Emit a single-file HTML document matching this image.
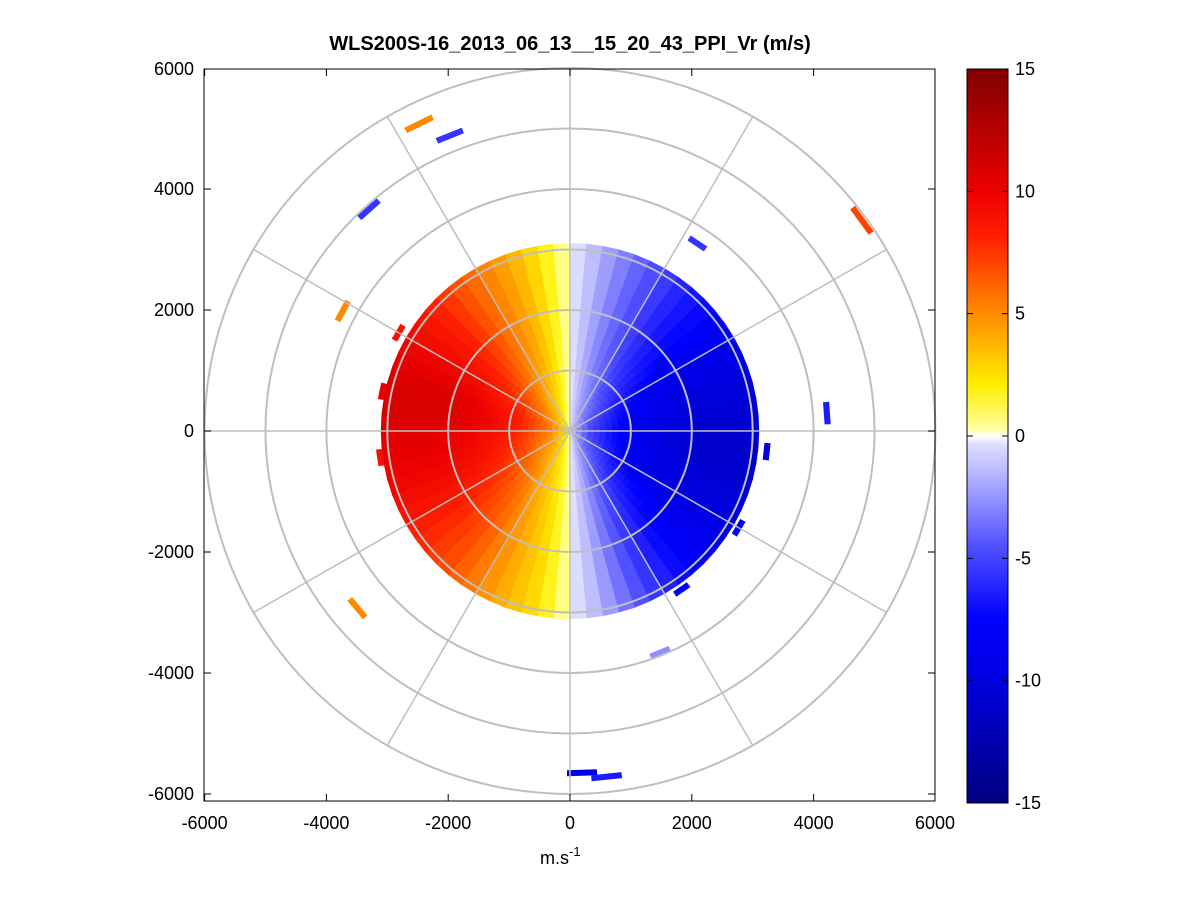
<!DOCTYPE html>
<html><head><meta charset="utf-8"><style>
body{margin:0;background:#fff;}
svg text{font-family:"Liberation Sans",sans-serif;}
</style></head><body>
<svg id="chart" width="1201" height="901" viewBox="0 0 1201 901" xmlns="http://www.w3.org/2000/svg">
<rect width="1201" height="901" fill="#fff"/>
<text x="570" y="50" font-size="20" font-weight="bold" text-anchor="middle">WLS200S-16_2013_06_13__15_20_43_PPI_Vr (m/s)</text>
<g id="cells"></g>
<g id="grid"></g>
<rect x="204" y="69" width="731" height="732" fill="none" stroke="#000" stroke-width="1"/>
<g id="axes"></g>
<text x="540" y="864" font-size="18">m.s<tspan dy="-8" font-size="13">-1</tspan></text>
<defs><linearGradient id="cbg" x1="0" y1="1" x2="0" y2="0">
<stop offset="0" stop-color="#000080"/><stop offset="0.17" stop-color="#0000e0"/>
<stop offset="0.25" stop-color="#0000ff"/><stop offset="0.35" stop-color="#5050ff"/>
<stop offset="0.49" stop-color="#e0e0ff"/><stop offset="0.5" stop-color="#ffffff"/>
<stop offset="0.51" stop-color="#ffffa0"/><stop offset="0.57" stop-color="#ffee00"/>
<stop offset="0.67" stop-color="#ff8800"/><stop offset="0.77" stop-color="#ff2000"/>
<stop offset="0.83" stop-color="#ee0000"/><stop offset="1" stop-color="#800000"/>
</linearGradient></defs>
<rect x="967" y="69" width="41" height="734" fill="url(#cbg)" stroke="#000"/>
<g id="cbar"></g>
</svg>
<script>
// Velocity per 10° azimuth bin (clockwise from north), m/s
const azValues=[0,-2,-4,-5.5,-7,-8,-9,-10,-10.5,-11,-11,-10.5,-10,-9,-8,-6.5,-4.5,-2,0,2,3.5,5,6.5,7.5,8.5,9.5,10,10.5,11,10.5,9.5,8.5,7,5.5,4,2];
// Magnitude factor per 100 m range gate
const gateFactor=[0.2,0.3,0.4,0.5,0.55,0.6,0.65,0.7,0.75,0.78,0.8,0.83,0.86,0.88,0.9,0.92,0.94,0.95,0.96,0.97,0.98,0.99,1,1,1,1,1,1,1,1,1];
// Outlier cells: azimuth deg, range m, velocity
const outAz=[334,338,318,54,298,34,86,230,158,178,174,282,262,300,96,120,145];
const outR=[5655,5270,4937,5930,4230,3742,4232,4560,3955,5657,5751,3150,3150,3250,3250,3200,3200];
const outV=[5,-6,-6,7,5,-6,-7,5,-3,-10,-7,10,9,9,-10,-9,-8];
const xTicks=[-6000,-4000,-2000,0,2000,4000,6000];
const yTicks=[-6000,-4000,-2000,0,2000,4000,6000];
const cTicks=[-15,-10,-5,0,5,10,15];

const NS='http://www.w3.org/2000/svg';
const cx=570,cy=431,kx=0.0609,ky=0.0605;
const X=v=>cx+v*kx, Y=v=>cy-v*ky;
const cTop=69,cBot=803;
const C=v=>cBot-(v+15)/30*(cBot-cTop);
function lerp(a,b,t){return a.map((x,i)=>Math.round(x+(b[i]-x)*t));}
const stopsP=[[0,[255,255,200]],[1,[255,255,60]],[2,[255,230,0]],[5,[255,136,0]],[8,[255,32,0]],[10,[235,0,0]],[15,[128,0,0]]];
const stopsN=[[0,[235,235,255]],[-5,[80,80,255]],[-8,[0,0,255]],[-10,[0,0,224]],[-15,[0,0,128]]];
function color(v){
  const s=v>=0?stopsP:stopsN;const a=Math.abs(v);
  for(let i=0;i<s.length-1;i++){const a0=Math.abs(s[i][0]),a1=Math.abs(s[i+1][0]);
    if(a<=a1){const c=lerp(s[i][1],s[i+1][1],(a-a0)/(a1-a0));return `rgb(${c})`;}}
  return `rgb(${s[s.length-1][1]})`;
}
function sector(a0,a1,r0,r1){
  const p=(a,r)=>{const t=a*Math.PI/180;return X(r*Math.sin(t)).toFixed(1)+','+Y(r*Math.cos(t)).toFixed(1);};
  return 'M'+p(a0,r0)+'L'+p(a1,r0)+'L'+p(a1,r1)+'L'+p(a0,r1)+'Z';
}
const cells=document.getElementById('cells');
const nb=azValues.length, w=360/nb;
for(let i=0;i<nb;i++){
  for(let g=0;g<gateFactor.length;g++){
    for(let sub=0;sub<2;sub++){
      const v=azValues[i]*gateFactor[g];
      const vn=azValues[(i+1)%nb]*gateFactor[g];
      const vv=sub===0?v*0.75+vn*0.25:v*0.25+vn*0.75;
      const el=document.createElementNS(NS,'path');
      
      
      el.setAttribute('d',sector(i*w+sub*w/2,i*w+(sub+1)*w/2,g*100,(g+1)*100+2));
      el.setAttribute('fill',color(vv));el.setAttribute('stroke',color(vv));el.setAttribute('stroke-width','0.6');
      cells.appendChild(el);
    }
  }
}
for(let i=0;i<outAz.length;i++){
  const el=document.createElementNS(NS,'path');
  
  
  el.setAttribute('d',sector(outAz[i]-2.5,outAz[i]+2.5,outR[i]-50,outR[i]+50));
  el.setAttribute('fill',color(outV[i]));
  cells.appendChild(el);
}
const grid=document.getElementById('grid');
for(let r=1000;r<=6000;r+=1000){
  const e=document.createElementNS(NS,'ellipse');
  
  
  e.setAttribute('cx',cx);e.setAttribute('cy',cy);e.setAttribute('rx',r*kx);e.setAttribute('ry',r*ky);
  e.setAttribute('fill','none');e.setAttribute('stroke','#bfbfbf');e.setAttribute('stroke-width','2');
  grid.appendChild(e);
}
for(let a=0;a<180;a+=30){
  const t=a*Math.PI/180;const l=document.createElementNS(NS,'line');
  
  
  l.setAttribute('x1',X(6000*Math.sin(t)));l.setAttribute('y1',Y(6000*Math.cos(t)));
  l.setAttribute('x2',X(-6000*Math.sin(t)));l.setAttribute('y2',Y(-6000*Math.cos(t)));
  l.setAttribute('stroke','#bfbfbf');l.setAttribute('stroke-width','1.5');
  grid.appendChild(l);
}
const axes=document.getElementById('axes');
function add(tag,attrs,txt){const e=document.createElementNS(NS,tag);for(const k in attrs)e.setAttribute(k,attrs[k]);if(txt!==undefined)e.textContent=txt;axes.appendChild(e);return e;}
xTicks.forEach(v=>{const x=Math.min(Math.max(X(v),204),935);
  const t=add('text',{x:x,y:829,'font-size':18,'text-anchor':'middle'},v);
  
  
  add('line',{x1:x,y1:801,x2:x,y2:794,stroke:'#000'});add('line',{x1:x,y1:69,x2:x,y2:76,stroke:'#000'});});
yTicks.forEach(v=>{const y=Math.min(Math.max(Y(v),69),801);
  const t=add('text',{x:194,y:y+6,'font-size':18,'text-anchor':'end'},v);
  
  
  add('line',{x1:204,y1:y,x2:211,y2:y,stroke:'#000'});add('line',{x1:935,y1:y,x2:928,y2:y,stroke:'#000'});});
const cb=document.getElementById('cbar');
cTicks.forEach(v=>{const y=C(v);
  const t=document.createElementNS(NS,'text');
  
  
  t.setAttribute('x',1015);t.setAttribute('y',y+6);t.setAttribute('font-size',18);t.textContent=v;cb.appendChild(t);
  [[967,973],[1002,1008]].forEach(p=>{const l=document.createElementNS(NS,'line');l.setAttribute('x1',p[0]);l.setAttribute('x2',p[1]);l.setAttribute('y1',y);l.setAttribute('y2',y);l.setAttribute('stroke','#000');cb.appendChild(l);});
});
</script>
</body></html>
